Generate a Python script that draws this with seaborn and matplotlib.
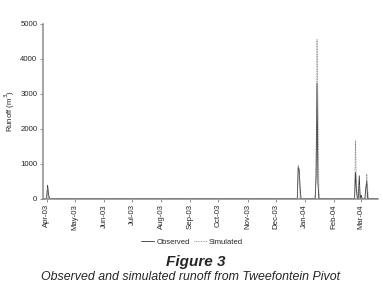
import numpy as np
import pandas as pd
import matplotlib
matplotlib.use('Agg')
import matplotlib.pyplot as plt
import matplotlib.dates as mdates
import seaborn as sns

# runoff events (m3), zero on all other days
obs_dates = ['2003-04-02', '2003-04-03',
             '2003-12-25', '2003-12-26', '2003-12-27',
             '2004-01-13', '2004-01-14', '2004-01-15',
             '2004-02-24', '2004-02-25', '2004-02-28', '2004-03-01',
             '2004-03-06', '2004-03-07']
obs_vals = [380, 120,
            900, 820, 300,
            600, 3300, 450,
            750, 250, 650, 100,
            300, 500]

sim_dates = ['2003-04-02',
             '2003-12-25', '2003-12-26',
             '2004-01-13', '2004-01-14', '2004-01-15', '2004-01-16',
             '2004-02-24', '2004-02-25', '2004-02-28',
             '2004-03-07', '2004-03-08']
sim_vals = [300,
            950, 850,
            800, 4550, 2800, 200,
            1650, 450, 400,
            700, 250]

start, end = '2003-03-28', '2004-03-19'
days = pd.date_range(start, end, freq='D')
obs = pd.Series(0.0, index=days)
obs[pd.to_datetime(obs_dates)] = obs_vals
sim = pd.Series(0.0, index=days)
sim[pd.to_datetime(sim_dates)] = sim_vals
df = pd.DataFrame({'date': days, 'Observed': obs.values, 'Simulated': sim.values})

sns.set_style('ticks')
plt.rcParams['font.family'] = ['Liberation Sans', 'DejaVu Sans']

fig = plt.figure(figsize=(3.83, 2.89), dpi=100)
ax = fig.add_axes([0.112, 0.313, 0.875, 0.604])

sns.lineplot(data=df, x='date', y='Observed', ax=ax, color='#303030', lw=0.6, label='Observed')
sns.lineplot(data=df, x='date', y='Simulated', ax=ax, color='#808080', lw=0.6,
             linestyle=(0, (1, 1)), label='Simulated')

ax.set_xlim(pd.Timestamp(start), pd.Timestamp(end))
ax.set_ylim(0, 5000)
ax.set_yticks([0, 1000, 2000, 3000, 4000, 5000])
ax.xaxis.set_major_locator(mdates.MonthLocator())
ax.xaxis.set_major_formatter(mdates.DateFormatter('%b-%y'))
plt.setp(ax.get_xticklabels(), rotation=90)
ax.tick_params(labelsize=5.6, length=2, width=0.6, color='#808080', pad=2)
ax.set_xlabel('')
ax.set_ylabel('Runoff (m$^3$)', fontsize=5.6, labelpad=2)
sns.despine(ax=ax)
for s in ['left', 'bottom']:
    ax.spines[s].set_color('#8c8c8c')
    ax.spines[s].set_linewidth(1.1)
    ax.spines[s].set_zorder(5)

ax.legend(loc='center', bbox_to_anchor=(0.502, 0.163), bbox_transform=fig.transFigure,
          ncol=2, frameon=False, fontsize=5.5, handlelength=1.7, columnspacing=0.5,
          handletextpad=0.3)

fig.text(0.51, 0.093, 'Figure 3', ha='center', va='center', fontsize=11,
         fontweight='bold', style='italic')
fig.text(0.497, 0.04, 'Observed and simulated runoff from Tweefontein Pivot', ha='center',
         va='center', fontsize=8.9, style='italic')

fig.savefig('out.png', dpi=100)
